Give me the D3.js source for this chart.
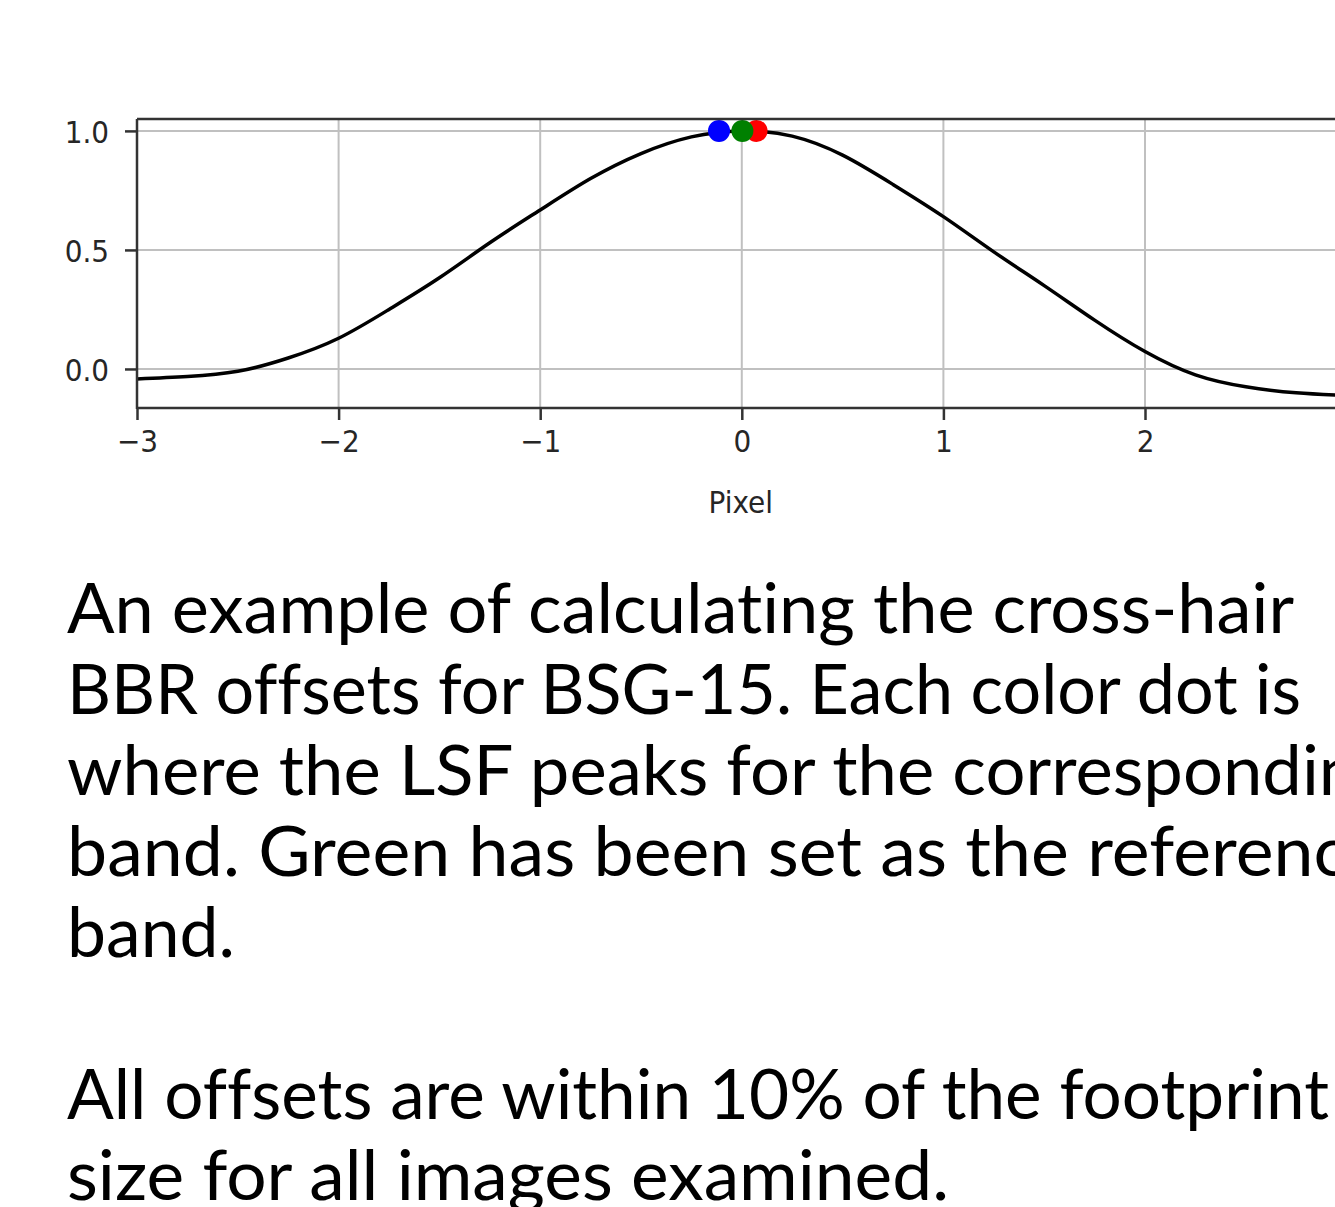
<!DOCTYPE html>
<html><head><meta charset="utf-8">
<script src="https://cdn.jsdelivr.net/npm/d3@7"></script>
<style>html,body{margin:0;padding:0;background:#fff;overflow:hidden}</style>
</head><body>
<svg id="c" width="1335" height="1207"></svg>
<script>
// LSF profile
const pixelX = [-3.0,-2.75,-2.5,-2.25,-2.0,-1.75,-1.5,-1.25,-1.0,-0.75,-0.5,-0.25,0.0,0.25,0.5,0.75,1.0,1.25,1.5,1.75,2.0,2.25,2.5,2.75,3.0];
const lsf    = [-0.042,-0.032,-0.010,0.046,0.129,0.250,0.383,0.530,0.668,0.800,0.905,0.975,1.0,0.978,0.898,0.775,0.640,0.492,0.350,0.205,0.073,-0.025,-0.075,-0.100,-0.112];
// band peaks
const bandNames = ["Blue","Red","Green"];
const bandPeakX = [-0.113, 0.073, 0.003];
const bandPeakY = [1.0, 1.0, 1.0];
const bandColors = ["#0000ff","#ff0000","#008000"];
const xTicks = [-3,-2,-1,0,1,2];
const yTicks = [0.0,0.5,1.0];
const xLabel = "Pixel";
const captionLines = [
  "An example of calculating the cross-hair",
  "BBR offsets for BSG-15. Each color dot is",
  "where the LSF peaks for the corresponding",
  "band. Green has been set as the reference",
  "band.",
  "",
  "All offsets are within 10% of the footprint",
  "size for all images examined."
];
// rendered line widths (layout)
const captionWidths = [1227, 1234, 1328, 1318, 168, 0, 1262, 882];

const svg = d3.select("#c");
const L = 137, R = 1346.6, T = 119, B = 408;
const x = d3.scaleLinear().domain([-3,3]).range([L,R]);
const y = d3.scaleLinear().domain([-0.164,1.050]).range([B,T]);

const spine = "#333333", grid = "#c0c0c0";
// grid
svg.append("g").selectAll("line").data(xTicks.concat([3])).join("line")
  .attr("x1",d=>x(d)).attr("x2",d=>x(d)).attr("y1",T).attr("y2",B)
  .attr("stroke",grid).attr("stroke-width",2);
svg.append("g").selectAll("line").data(yTicks).join("line")
  .attr("x1",L).attr("x2",R).attr("y1",d=>y(d)).attr("y2",d=>y(d))
  .attr("stroke",grid).attr("stroke-width",2);

// curve
svg.append("path")
  .datum(pixelX.map((v,i)=>[v,lsf[i]]))
  .attr("d", d3.line().x(d=>x(d[0])).y(d=>y(d[1])).curve(d3.curveNatural))
  .attr("fill","none").attr("stroke","#000").attr("stroke-width",3.5);

// dots
svg.append("g").selectAll("circle").data(bandNames).join("circle")
  .attr("cx",(d,i)=>x(bandPeakX[i])).attr("cy",(d,i)=>y(bandPeakY[i]))
  .attr("r",11).attr("fill",(d,i)=>bandColors[i]);

// axes
const xAxis = d3.axisBottom(x).tickValues(xTicks).tickSize(12).tickPadding(10)
  .tickFormat(d=>d<0?"\u2212"+Math.abs(d):String(d));
const gx = svg.append("g").attr("transform",`translate(0,${B})`).call(xAxis);
const yAxis = d3.axisLeft(y).tickValues(yTicks).tickSize(12).tickPadding(16)
  .tickFormat(d3.format(".1f"));
const gy = svg.append("g").attr("transform",`translate(${L},0)`).call(yAxis);
[gx,gy].forEach(g=>{
  g.select(".domain").remove();
  g.selectAll(".tick line").attr("stroke",spine).attr("stroke-width",2.5);
  g.selectAll(".tick text").attr("fill","#262626")
    .style("font-family","'DejaVu Sans Condensed','DejaVu Sans',sans-serif").style("font-size","31px");
});
gy.selectAll(".tick text").attr("dy","0.36em");
// spines
svg.append("line").attr("x1",L).attr("x2",L).attr("y1",T).attr("y2",B+1).attr("stroke",spine).attr("stroke-width",2.5);
svg.append("line").attr("x1",L).attr("x2",1335).attr("y1",T).attr("y2",T).attr("stroke",spine).attr("stroke-width",2.5);
svg.append("line").attr("x1",L).attr("x2",1335).attr("y1",B).attr("y2",B).attr("stroke",spine).attr("stroke-width",2.5);

svg.append("text").attr("x",x(0)-1).attr("y",513).attr("text-anchor","middle")
  .attr("fill","#262626").style("font-family","'DejaVu Sans Condensed','DejaVu Sans',sans-serif")
  .style("font-size","31px").text(xLabel);

// caption
const cap = svg.append("g");
cap.selectAll("text").data(captionLines.map((t,i)=>({t,i}))).join("text")
  .filter(d=>d.t.length>0)
  .attr("x",67).attr("y",d=>633+d.i*81)
  .attr("textLength",d=>captionWidths[d.i]).attr("lengthAdjust","spacingAndGlyphs")
  .style("font-family","Lato, sans-serif").style("font-size","70px")
  .style("font-variant-ligatures","none").style("font-feature-settings","'liga' 0, 'clig' 0")
  .attr("fill","#000")
  .text(d=>d.t);
</script>
</body></html>
